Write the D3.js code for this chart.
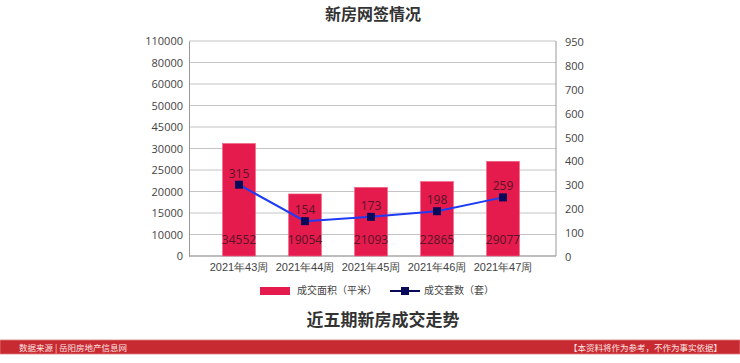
<!DOCTYPE html>
<html>
<head>
<meta charset="utf-8">
<script src="https://cdn.jsdelivr.net/npm/d3@7"></script>
<style>
  body { margin: 0; background: #fff; }
  svg { display: block; font-family: "Noto Sans CJK SC", "Noto Sans", sans-serif; }
</style>
</head>
<body>
<div id="chart"></div>
<script>
// Chart data
var weeks = ["2021年43周", "2021年44周", "2021年45周", "2021年46周", "2021年47周"];
var areaValues = [34552, 19054, 21093, 22865, 29077];   // 成交面积（平米）
var unitValues = [315, 154, 173, 198, 259];             // 成交套数（套）
var leftTickLabels = ["0", "10000", "15000", "20000", "25000", "30000", "45000", "50000", "60000", "80000", "110000"];
var rightTickLabels = ["0", "100", "200", "300", "400", "500", "600", "700", "800", "950"];

var width = 740;
var height = 363;
var plotLeft = 189;
var plotRight = 556;
var plotTop = 41;
var plotBottom = 256;

var svg = d3.select("#chart").append("svg")
  .attr("width", width)
  .attr("height", height);

// Title
svg.append("text")
  .attr("x", 373)
  .attr("y", 20)
  .attr("text-anchor", "middle")
  .attr("font-size", "16px")
  .attr("font-weight", "bold")
  .attr("fill", "#333")
  .text("新房网签情况");

// Scales
var xScale = d3.scaleBand()
  .domain(weeks)
  .range([206, 536])
  .paddingInner(0.5)
  .paddingOuter(0.25);

var yArea = d3.scaleLinear().domain([0, 66000]).range([plotBottom, plotTop]);
var yUnits = d3.scaleLinear().domain([0, 950]).range([plotBottom, plotTop]);

// tick label positions (evenly spaced text labels)
var leftLabelScale = d3.scalePoint().domain(leftTickLabels).range([plotBottom, plotTop]);
var rightLabelScale = d3.scalePoint().domain(rightTickLabels).range([plotBottom + 1, plotTop + 1]);

// Gridlines
svg.append("g")
  .selectAll("line")
  .data(leftTickLabels)
  .enter().append("line")
  .attr("x1", plotLeft)
  .attr("x2", plotRight)
  .attr("y1", function(d) { return leftLabelScale(d); })
  .attr("y2", function(d) { return leftLabelScale(d); })
  .attr("stroke", "#c4c4c4")
  .attr("stroke-width", 1);

// Left axis
var leftAxis = svg.append("g")
  .attr("transform", "translate(" + plotLeft + ",0)")
  .call(d3.axisLeft(leftLabelScale).tickSize(0).tickPadding(6));
leftAxis.select(".domain").attr("stroke", "#999");
leftAxis.selectAll("text").attr("font-size", "11px").attr("fill", "#444")
  .style("font-family", "'Open Sans', sans-serif");

// Right axis
var rightAxis = svg.append("g")
  .attr("transform", "translate(" + plotRight + ",0)")
  .call(d3.axisRight(rightLabelScale).tickSize(0).tickPadding(9));
rightAxis.select(".domain").attr("stroke", "#999").attr("d", "M0," + plotBottom + "V" + plotTop);
rightAxis.selectAll("text").attr("font-size", "11px").attr("fill", "#444")
  .style("font-family", "'Open Sans', sans-serif");

// Bottom axis
var bottomAxis = svg.append("g")
  .attr("transform", "translate(0," + plotBottom + ")")
  .call(d3.axisBottom(xScale).tickSize(0).tickPadding(7));
bottomAxis.select(".domain").attr("stroke", "#999").attr("d", "M" + plotLeft + ",0H" + plotRight);
bottomAxis.selectAll("text").attr("font-size", "11px").attr("fill", "#444");

// Bars
svg.append("g")
  .selectAll("rect")
  .data(areaValues)
  .enter().append("rect")
  .attr("x", function(d, i) { return xScale(weeks[i]); })
  .attr("y", function(d) { return yArea(d); })
  .attr("width", xScale.bandwidth())
  .attr("height", function(d) { return plotBottom - yArea(d); })
  .attr("fill", "#e41b4c")
  .attr("stroke", "#f06a8a")
  .attr("stroke-width", 0.6);

// Bar labels
svg.append("g")
  .selectAll("text")
  .data(areaValues)
  .enter().append("text")
  .attr("x", function(d, i) { return xScale(weeks[i]) + xScale.bandwidth() / 2; })
  .attr("y", 244)
  .attr("text-anchor", "middle")
  .attr("font-size", "12px")
  .attr("fill", "#5a1428")
  .style("font-family", "'Open Sans', sans-serif")
  .text(function(d) { return d; });

// Line
var line = d3.line()
  .x(function(d, i) { return xScale(weeks[i]) + xScale.bandwidth() / 2; })
  .y(function(d) { return yUnits(d); });

svg.append("path")
  .datum(unitValues)
  .attr("d", line)
  .attr("fill", "none")
  .attr("stroke", "#1f3cf5")
  .attr("stroke-width", 2);

svg.append("g")
  .selectAll("rect")
  .data(unitValues)
  .enter().append("rect")
  .attr("x", function(d, i) { return xScale(weeks[i]) + xScale.bandwidth() / 2 - 4; })
  .attr("y", function(d) { return yUnits(d) - 4; })
  .attr("width", 8)
  .attr("height", 8)
  .attr("fill", "#0a0a5a");

svg.append("g")
  .selectAll("text")
  .data(unitValues)
  .enter().append("text")
  .attr("x", function(d, i) { return xScale(weeks[i]) + xScale.bandwidth() / 2; })
  .attr("y", function(d) { return yUnits(d) - 7; })
  .attr("text-anchor", "middle")
  .attr("font-size", "12px")
  .attr("fill", "#5a1428")
  .style("font-family", "'Open Sans', sans-serif")
  .text(function(d) { return d; });

// Legend
var legend = svg.append("g");
legend.append("rect")
  .attr("x", 260).attr("y", 287)
  .attr("width", 30).attr("height", 8)
  .attr("fill", "#e41b4c");
legend.append("text")
  .attr("x", 297).attr("y", 294)
  .attr("font-size", "10px").attr("fill", "#444")
  .text("成交面积（平米）");
legend.append("line")
  .attr("x1", 390).attr("x2", 420)
  .attr("y1", 291).attr("y2", 291)
  .attr("stroke", "#0a0a5a").attr("stroke-width", 2);
legend.append("rect")
  .attr("x", 401).attr("y", 287)
  .attr("width", 8).attr("height", 8)
  .attr("fill", "#0a0a5a");
legend.append("text")
  .attr("x", 424).attr("y", 294)
  .attr("font-size", "10px").attr("fill", "#444")
  .text("成交套数（套）");

// Second heading
svg.append("text")
  .attr("x", 383)
  .attr("y", 326)
  .attr("text-anchor", "middle")
  .attr("font-size", "17px")
  .attr("font-weight", "bold")
  .attr("fill", "#333")
  .text("近五期新房成交走势");

// Footer band
svg.append("rect")
  .attr("x", 0).attr("y", 340)
  .attr("width", width).attr("height", 14)
  .attr("fill", "#c72a30")
  .attr("stroke", "#e07c80")
  .attr("stroke-width", 0.8);
svg.append("text")
  .attr("x", 19).attr("y", 351)
  .attr("font-size", "8.5px").attr("fill", "#fbe3e3")
  .text("数据来源 | 岳阳房地产信息网");
svg.append("text")
  .attr("x", 722).attr("y", 351)
  .attr("text-anchor", "end")
  .attr("font-size", "8.5px").attr("fill", "#fbe3e3")
  .text("【本资料将作为参考，不作为事实依据】");
</script>
</body>
</html>
